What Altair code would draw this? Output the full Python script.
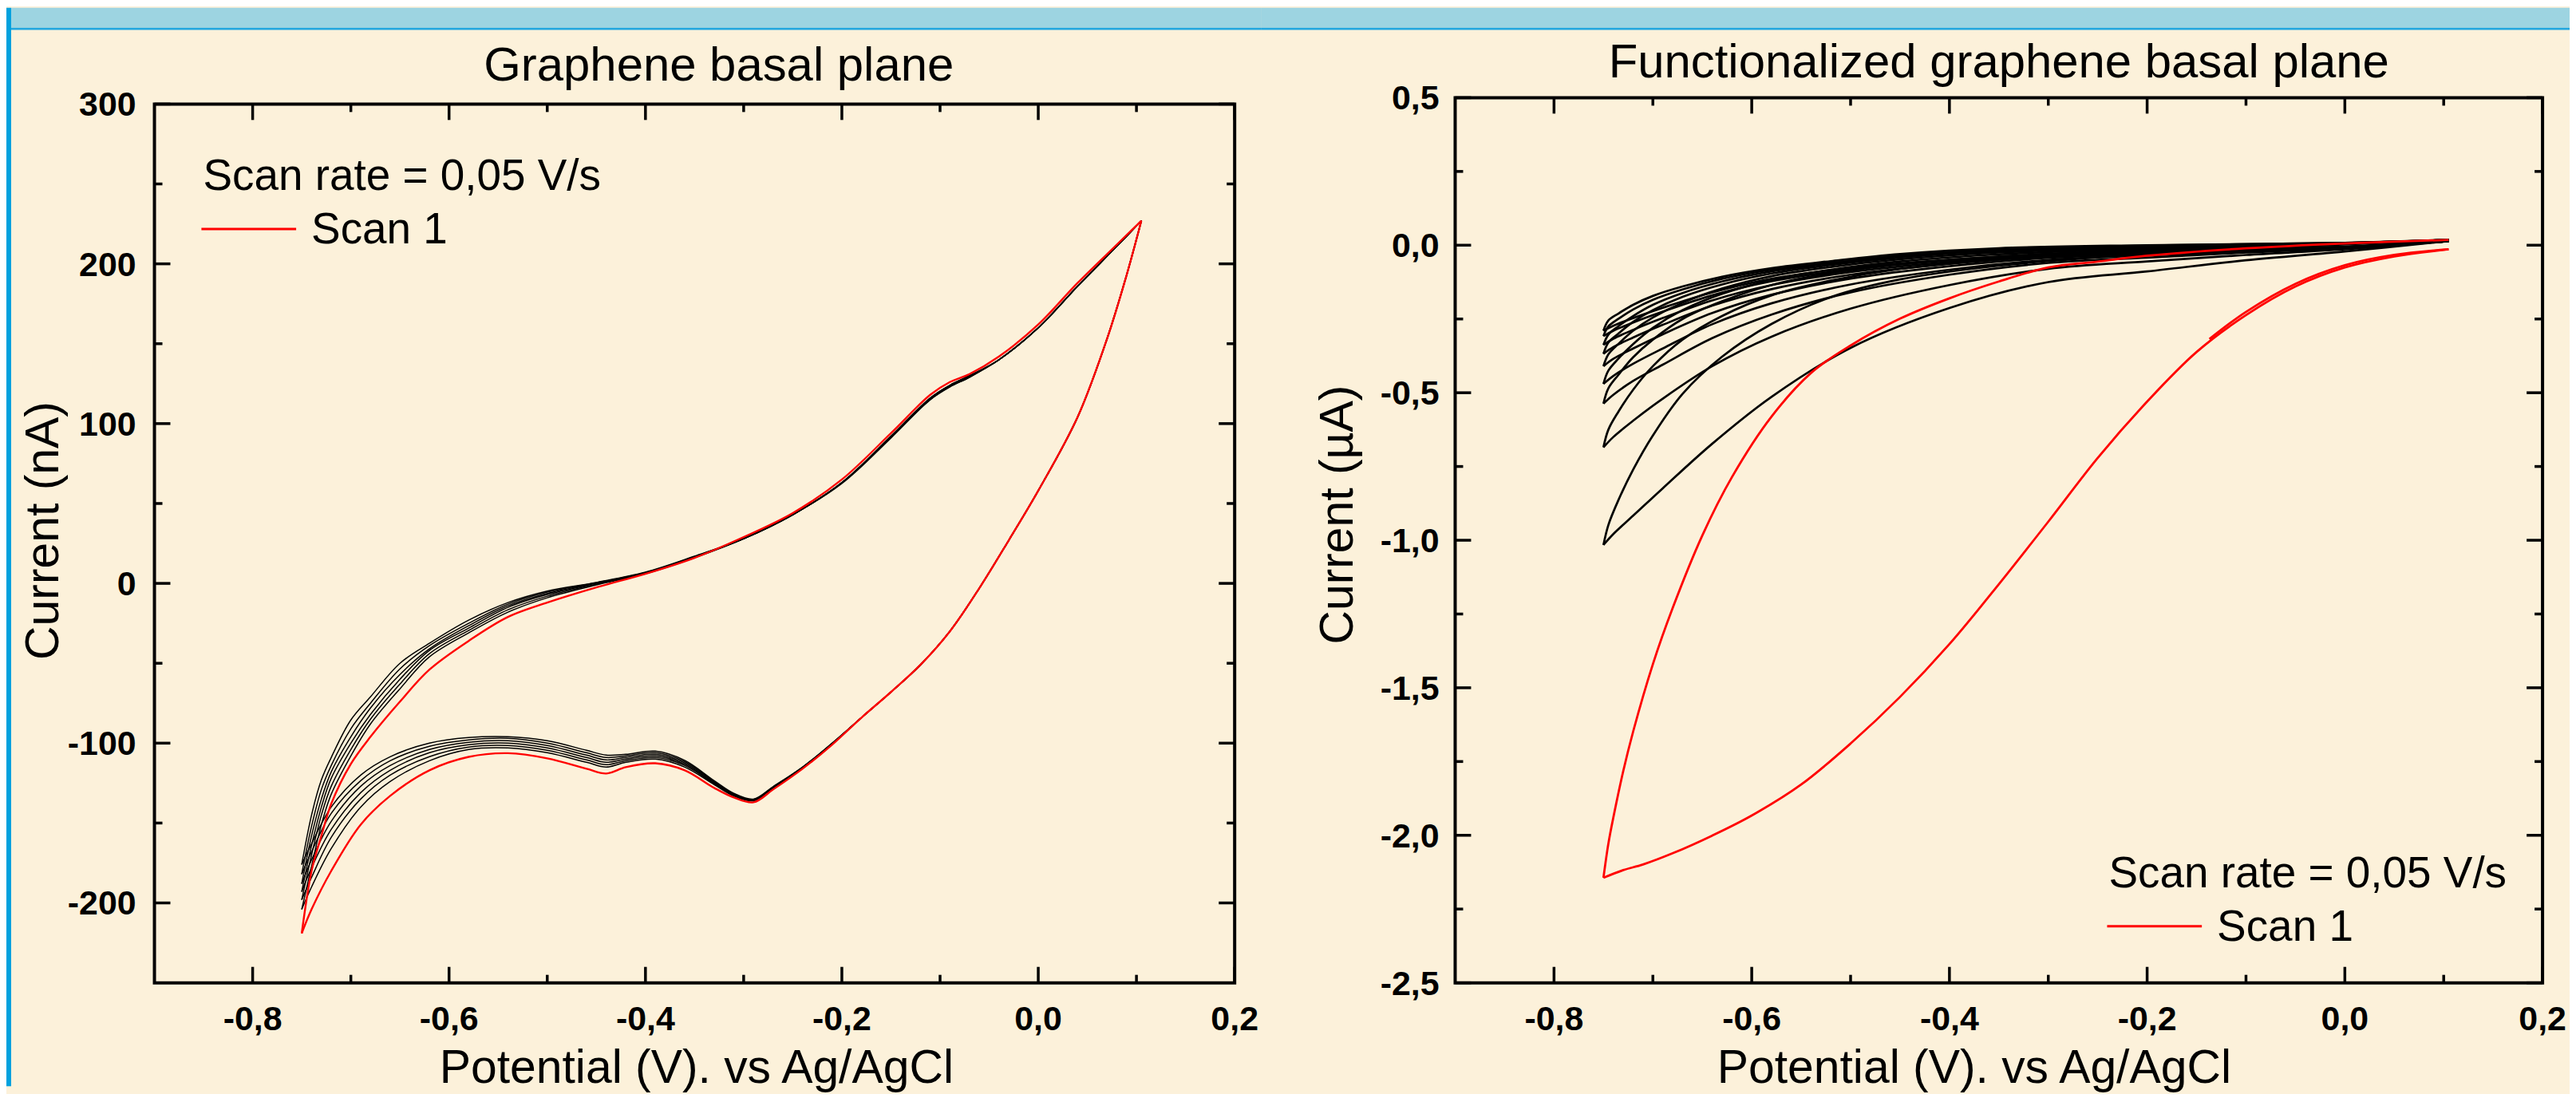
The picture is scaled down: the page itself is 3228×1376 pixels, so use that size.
import altair as alt
import pandas as pd

FONT = "Liberation Sans"
BG = "#FCF1DA"

# ---------------- Left panel: Graphene basal plane (current in nA) ----------------
L_UP_E = [-0.75, -0.74, -0.73, -0.72, -0.70, -0.68, -0.65, -0.62, -0.58, -0.54, -0.50, -0.45, -0.40,
          -0.35, -0.30, -0.25, -0.20, -0.15, -0.11, -0.09, -0.07, -0.04, 0.0, 0.04, 0.08, 0.105]
L_DN_E = [0.105, 0.09, 0.07, 0.04, 0.0, -0.03, -0.06, -0.09, -0.12, -0.15, -0.18, -0.21, -0.24, -0.27,
          -0.29, -0.31, -0.33, -0.36, -0.39, -0.42, -0.44, -0.46, -0.50, -0.54, -0.58, -0.62, -0.66,
          -0.69, -0.72, -0.74, -0.75]

L_SCAN1_UP = [-219, -180, -158, -138, -113, -96, -74, -54, -36, -21, -12, -2.5, 6, 16, 29, 44, 65, 94,
              118, 126, 131, 142, 162, 188, 212, 227]
L_SCAN1_DN = [227, 193, 153, 104, 58, 27, -3, -30, -51, -68, -84, -101, -116, -129, -137, -134, -128,
              -117, -112.6, -115, -119, -116, -109.5, -106.3, -108.6, -117, -133, -151, -180, -204, -219]

L_SCAN2_UP = [-204, -177, -151, -132, -108, -88, -66, -46, -31, -18, -9, -1, 6, 16, 28, 43, 63, 92,
              116, 124, 130, 140, 160, 186, 211, 227]
L_SCAN2_DN = [227, 193, 153, 104, 58, 27, -3, -30, -51, -68, -84, -100.5, -115.5, -128, -136, -133,
              -126, -115, -110, -112, -115, -112, -106, -103, -104, -111, -124, -140, -166, -190, -204]
L_SCAN3_UP = [-198, -170, -145, -127, -104, -85, -63, -44, -29.5, -16.5, -8, -0.5, 6.2, 16.3, 28, 43,
              63, 92, 116, 124, 130, 140, 160, 186, 211, 227]
L_SCAN3_DN = [227, 193, 153, 104, 58, 27, -3, -30, -51, -68, -84, -100.5, -115.5, -128, -136, -133,
              -125.5, -114, -109, -111, -113.5, -110.5, -104.5, -101.5, -102.5, -108.5, -120, -135,
              -159, -184, -198]
L_SCAN4_UP = [-193, -164, -140, -122, -100, -82, -60, -42, -28, -15, -7, 0, 6.4, 16.5, 28, 43, 63, 92,
              116, 124, 129.5, 140, 160, 186, 211, 227]
L_SCAN4_DN = [227, 193, 153, 104, 58, 27, -3, -30, -51, -68, -84, -100.5, -115.3, -127.8, -135.6,
              -132.6, -125, -113.2, -108, -110, -112, -109, -103, -100, -101, -106, -117, -131, -154,
              -178, -193]
L_SCAN5_UP = [-188, -158, -135, -118, -96, -78, -57, -41, -26.5, -14, -6.3, 0.2, 6.6, 16.7, 28, 43, 63,
              92, 115.5, 123.5, 129.5, 140, 160, 186, 211, 227]
L_SCAN5_DN = [227, 193, 153, 104, 58, 27, -3, -30, -51, -68, -84, -100.3, -115.2, -127.6, -135.4,
              -132.2, -124.5, -112.4, -107, -109, -110.5, -107.5, -101.5, -98.5, -99.5, -104, -114,
              -127, -149, -173, -188]
L_SCAN6_UP = [-182, -152, -129, -114, -91, -75, -53.5, -39, -25, -13, -5.5, 0.4, 6.8, 16.8, 28, 43, 63,
              91.5, 115, 123, 129, 140, 160, 186, 211, 227]
L_SCAN6_DN = [227, 193, 153, 104, 58, 27, -3, -30, -51, -68, -84, -100.2, -115, -127.4, -135.2,
              -131.8, -124, -111.6, -106, -108, -109, -106, -100, -97, -98, -102, -111, -123.5, -144,
              -168, -182]
L_SCAN7_UP = [-176, -145, -123, -109, -85.5, -71, -50, -37.5, -23, -12, -4.8, 0.6, 7, 17, 28, 43, 62.5,
              91, 115, 123, 129, 140, 160, 186, 211, 227]
L_SCAN7_DN = [227, 193, 153, 104, 58, 27, -3, -30, -51, -68, -84, -100, -115, -127.2, -135, -131.4,
              -123.5, -110.8, -105, -107, -107.5, -104.5, -98.5, -96, -96.5, -100, -108.5, -120, -140,
              -163, -176]

# ---------------- Right panel: Functionalized graphene basal plane (current in uA) ----------------
R_SCAN1_INIT_E = [-0.137, -0.1, -0.05, 0.0, 0.05, 0.105]
R_SCAN1_INIT = [-0.318, -0.226, -0.131, -0.068, -0.033, -0.014]
R_SCAN1_C_E = [0.105, 0.05, 0.0, -0.05, -0.1, -0.15, -0.2, -0.25, -0.3, -0.35, -0.4, -0.45, -0.5,
               -0.55, -0.6, -0.64, -0.68, -0.71, -0.73, -0.75]
R_SCAN1_C = [-0.014, -0.038, -0.0755, -0.140, -0.237, -0.362, -0.530, -0.721, -0.937, -1.149, -1.352,
             -1.531, -1.689, -1.828, -1.933, -2.001, -2.061, -2.099, -2.118, -2.144]
R_SCAN1_A_E = [-0.75, -0.745, -0.74, -0.73, -0.72, -0.70, -0.68, -0.65, -0.62, -0.58, -0.54, -0.50,
               -0.45, -0.40, -0.35, -0.30, -0.25, -0.20, -0.10, 0.0, 0.105]
R_SCAN1_A = [-2.144, -2.028, -1.94, -1.783, -1.649, -1.42, -1.23, -0.984, -0.786, -0.581, -0.433,
             -0.34, -0.249, -0.18, -0.123, -0.0756, -0.0556, -0.0356, -0.0104, 0.0061, 0.018]

R_CATH_E = [0.105, 0.0, -0.1, -0.2, -0.3, -0.4, -0.5, -0.58, -0.64, -0.69, -0.72, -0.74, -0.75]
R_ANOD_E = [-0.75, -0.745, -0.735, -0.72, -0.70, -0.67, -0.63, -0.58, -0.52, -0.45, -0.35, -0.2, 0.0, 0.105]

R_SCAN2_C = [0.014, -0.021, -0.051, -0.089, -0.125, -0.213, -0.348, -0.514, -0.673, -0.824, -0.917, -0.979, -1.016]
R_SCAN2_A = [-1.016, -0.948, -0.865, -0.761, -0.645, -0.504, -0.378, -0.267, -0.176, -0.116, -0.0695, -0.03, 0.003, 0.018]
R_SCAN3_C = [0.014, -0.014, -0.033, -0.055, -0.08, -0.135, -0.215, -0.31, -0.41, -0.52, -0.595, -0.65, -0.685]
R_SCAN3_A = [-0.685, -0.625, -0.565, -0.49, -0.41, -0.32, -0.24, -0.17, -0.12, -0.08, -0.048, -0.02, 0.004, 0.018]
R_SCAN4_C = [0.014, -0.01, -0.025, -0.042, -0.06, -0.1, -0.16, -0.235, -0.315, -0.405, -0.46, -0.507, -0.537]
R_SCAN4_A = [-0.537, -0.485, -0.44, -0.38, -0.32, -0.25, -0.19, -0.135, -0.095, -0.065, -0.038, -0.015, 0.005, 0.018]
R_SCAN5_C = [0.014, -0.008, -0.021, -0.035, -0.05, -0.083, -0.133, -0.197, -0.268, -0.35, -0.402, -0.443, -0.47]
R_SCAN5_A = [-0.47, -0.425, -0.385, -0.335, -0.28, -0.22, -0.165, -0.118, -0.083, -0.055, -0.031, -0.011, 0.006, 0.018]
R_SCAN6_C = [0.014, -0.007, -0.018, -0.03, -0.043, -0.071, -0.113, -0.168, -0.23, -0.302, -0.35, -0.385, -0.41]
R_SCAN6_A = [-0.41, -0.37, -0.335, -0.29, -0.245, -0.195, -0.147, -0.105, -0.074, -0.048, -0.025, -0.008, 0.006, 0.018]
R_SCAN7_C = [0.014, -0.006, -0.016, -0.027, -0.038, -0.063, -0.1, -0.149, -0.205, -0.27, -0.313, -0.345, -0.368]
R_SCAN7_A = [-0.368, -0.33, -0.3, -0.26, -0.22, -0.175, -0.133, -0.096, -0.067, -0.042, -0.02, -0.005, 0.007, 0.018]
R_SCAN8_C = [0.014, -0.006, -0.015, -0.025, -0.035, -0.057, -0.091, -0.135, -0.187, -0.247, -0.287, -0.317, -0.338]
R_SCAN8_A = [-0.338, -0.303, -0.275, -0.24, -0.202, -0.162, -0.123, -0.089, -0.062, -0.037, -0.016, -0.003, 0.007, 0.018]
R_SCAN9_C = [0.014, -0.005, -0.014, -0.023, -0.032, -0.052, -0.082, -0.122, -0.17, -0.225, -0.262, -0.29, -0.308]
R_SCAN9_A = [-0.308, -0.275, -0.25, -0.218, -0.185, -0.15, -0.114, -0.083, -0.058, -0.033, -0.013, -0.001, 0.008, 0.018]
R_SCAN10_C = [0.014, -0.005, -0.013, -0.021, -0.03, -0.049, -0.077, -0.114, -0.16, -0.212, -0.247, -0.273, -0.29]
R_SCAN10_A = [-0.29, -0.255, -0.232, -0.202, -0.172, -0.14, -0.107, -0.078, -0.054, -0.03, -0.01, 0.0, 0.008, 0.018]

# ---------------- axes / texts ----------------
X_DOMAIN = [-0.9, 0.2]
L_Y_DOMAIN = [-250, 300]
R_Y_DOMAIN = [-2.5, 0.5]
X_MAJOR = [-0.8, -0.6, -0.4, -0.2, 0.0, 0.2]
X_LABELS = ["-0,8", "-0,6", "-0,4", "-0,2", "0,0", "0,2"]
X_MINOR = [-0.7, -0.5, -0.3, -0.1, 0.1]
L_Y_MAJOR = [-200, -100, 0, 100, 200, 300]
L_Y_LABELS = ["-200", "-100", "0", "100", "200", "300"]
L_Y_MINOR = [-150, -50, 50, 150, 250]
R_Y_MAJOR = [-2.5, -2.0, -1.5, -1.0, -0.5, 0.0, 0.5]
R_Y_LABELS = ["-2,5", "-2,0", "-1,5", "-1,0", "-0,5", "0,0", "0,5"]
R_Y_MINOR = [-2.25, -1.75, -1.25, -0.75, -0.25, 0.25]

TITLES = ["Graphene basal plane", "Functionalized graphene basal plane"]
X_TITLE = "Potential (V). vs Ag/AgCl"
Y_TITLES = ["Current (nA)", "Current (µA)"]
LEGEND = ["Scan rate = 0,05 V/s", "Scan 1"]


def seg_frame(segs):
    rows = []
    for sid, (xs, ys) in enumerate(segs):
        for k, (e, i) in enumerate(zip(xs, ys)):
            rows.append({"E": e, "I": i, "seg": sid, "k": k})
    return pd.DataFrame(rows)


def one():
    return pd.DataFrame({"a": [0]})


def txt(text, x, y, size, align="left", weight="normal", angle=0):
    return alt.Chart(pd.DataFrame({"txt": [text]})).mark_text(
        font=FONT, fontSize=size, fontWeight=weight, color="black", align=align,
        baseline="alphabetic", angle=angle).encode(x=alt.value(x), y=alt.value(y), text="txt:N")


def panel(cfg):
    W, H, T = cfg["W"], cfg["H"], cfg["top"]   # plot frame from y=T to y=H
    xs = alt.Scale(domain=X_DOMAIN, nice=False, zero=False)
    ys = alt.Scale(domain=cfg["ydom"], range=[H, T], nice=False, zero=False)
    X = lambda f: alt.X(f, scale=xs, axis=None)
    Y = lambda f: alt.Y(f, scale=ys, axis=None)

    black = alt.Chart(seg_frame(cfg["black"])).mark_line(
        color="black", strokeWidth=cfg["bw"], interpolate="catmull-rom").encode(
        x=X("E:Q"), y=Y("I:Q"), detail="seg:N", order="k:Q")
    red = alt.Chart(seg_frame(cfg["red"])).mark_line(
        color="#FF0000", strokeWidth=cfg["rw"], interpolate="catmull-rom").encode(
        x=X("E:Q"), y=Y("I:Q"), detail="seg:N", order="k:Q")
    layers = [black, red]

    # frame
    layers.append(alt.Chart(one()).mark_rect(filled=False, stroke="black", strokeWidth=4).encode(
        x=alt.value(0), x2=alt.value(W), y=alt.value(T), y2=alt.value(H)))

    # inward ticks
    for vals, L in ((X_MAJOR, 20), (X_MINOR, 10)):
        base = alt.Chart(pd.DataFrame({"t": vals})).mark_rule(color="black", strokeWidth=3.5)
        layers.append(base.encode(x=X("t:Q"), y=alt.value(T), y2=alt.value(T + L)))
        layers.append(base.encode(x=X("t:Q"), y=alt.value(H), y2=alt.value(H - L)))
    for vals, L in ((cfg["ymaj"], 20), (cfg["ymin"], 10)):
        base = alt.Chart(pd.DataFrame({"t": vals})).mark_rule(color="black", strokeWidth=3.5)
        layers.append(base.encode(y=Y("t:Q"), x=alt.value(0), x2=alt.value(L)))
        layers.append(base.encode(y=Y("t:Q"), x=alt.value(W), x2=alt.value(W - L)))

    # tick labels
    layers.append(alt.Chart(pd.DataFrame({"t": X_MAJOR, "lab": X_LABELS})).mark_text(
        font=FONT, fontSize=43, fontWeight="bold", color="black", align="center",
        baseline="alphabetic").encode(x=X("t:Q"), y=alt.value(H + 59), text="lab:N"))
    layers.append(alt.Chart(pd.DataFrame({"t": cfg["ymaj"], "lab": cfg["ylabs"]})).mark_text(
        font=FONT, fontSize=43, fontWeight="bold", color="black", align="right",
        baseline="alphabetic", dy=15).encode(y=Y("t:Q"), x=alt.value(-cfg["ypad"]), text="lab:N"))

    # axis titles and panel title
    layers.append(txt(X_TITLE, cfg["xtx"], H + 126, 59, align="center"))
    layers.append(txt(cfg["ytitle"], cfg["ytx"], cfg["yty"], 59, align="center", angle=270))
    layers.append(txt(cfg["title"], cfg["tx"], cfg["ty"], 60, align="center"))

    # legend
    lx, ly = cfg["leg"]
    layers.append(txt(LEGEND[0], lx + 2, ly, 55))
    layers.append(alt.Chart(one()).mark_rule(color="#FF0000", strokeWidth=3).encode(
        x=alt.value(lx), x2=alt.value(lx + 119), y=alt.value(ly + 49)))
    layers.append(txt(LEGEND[1], lx + 138, ly + 67, 55))

    # page decorations (blue header band, left stripe)
    bx0, bx1, by0 = cfg["band"]
    layers.append(alt.Chart(one()).mark_rect(color="#9DD4E1").encode(
        x=alt.value(bx0), x2=alt.value(bx1), y=alt.value(by0), y2=alt.value(by0 + 25)))
    layers.append(alt.Chart(one()).mark_rect(color="#22A6DF").encode(
        x=alt.value(bx0), x2=alt.value(bx1), y=alt.value(by0 + 25), y2=alt.value(by0 + 28)))
    if cfg.get("stripe"):
        layers.append(alt.Chart(one()).mark_rect(color="#00A1DE").encode(
            x=alt.value(bx0 - 6), x2=alt.value(bx0), y=alt.value(by0), y2=alt.value(H + 130)))

    return alt.layer(*layers).properties(width=W, height=H)


left_black = []
for up, dn in [(L_SCAN2_UP, L_SCAN2_DN), (L_SCAN3_UP, L_SCAN3_DN), (L_SCAN4_UP, L_SCAN4_DN),
               (L_SCAN5_UP, L_SCAN5_DN), (L_SCAN6_UP, L_SCAN6_DN), (L_SCAN7_UP, L_SCAN7_DN)]:
    left_black += [(L_UP_E, up), (L_DN_E, dn)]
left_red = [(L_UP_E, L_SCAN1_UP), (L_DN_E, L_SCAN1_DN)]

right_black = []
for c, a in [(R_SCAN2_C, R_SCAN2_A), (R_SCAN3_C, R_SCAN3_A), (R_SCAN4_C, R_SCAN4_A),
             (R_SCAN5_C, R_SCAN5_A), (R_SCAN6_C, R_SCAN6_A), (R_SCAN7_C, R_SCAN7_A),
             (R_SCAN8_C, R_SCAN8_A), (R_SCAN9_C, R_SCAN9_A), (R_SCAN10_C, R_SCAN10_A)]:
    right_black += [(R_CATH_E, c), (R_ANOD_E, a)]
right_red = [(R_SCAN1_INIT_E, R_SCAN1_INIT), (R_SCAN1_C_E, R_SCAN1_C), (R_SCAN1_A_E, R_SCAN1_A)]

# both panels share a group origin at page y=121; left frame starts 8 px lower
left = panel(dict(W=1357, H=1112, top=8, ydom=L_Y_DOMAIN, ymaj=L_Y_MAJOR, ylabs=L_Y_LABELS,
                  ymin=L_Y_MINOR, ypad=23, ytitle=Y_TITLES[0], ytx=-121, yty=544, xtx=681,
                  black=left_black, red=left_red, bw=1.5, rw=2.4,
                  title=TITLES[0], tx=709, ty=-21, leg=(59, 116),
                  band=(-180, 1390, -113), stripe=True))
right = panel(dict(W=1366, H=1112, top=0, ydom=R_Y_DOMAIN, ymaj=R_Y_MAJOR, ylabs=R_Y_LABELS,
                   ymin=R_Y_MINOR, ypad=20, ytitle=Y_TITLES[1], ytx=-129, yty=524, xtx=652,
                   black=right_black, red=right_red, bw=2.7, rw=2.8,
                   title=TITLES[1], tx=683, ty=-25, leg=(819, 992),
                   band=(-244, 1400, -113), stripe=False))

chart = alt.hconcat(left, right, spacing=0).properties(padding=0, background=BG).configure_view(
    strokeWidth=0)

chart.save("out.html", embed_options={"renderer": "svg", "actions": False})
